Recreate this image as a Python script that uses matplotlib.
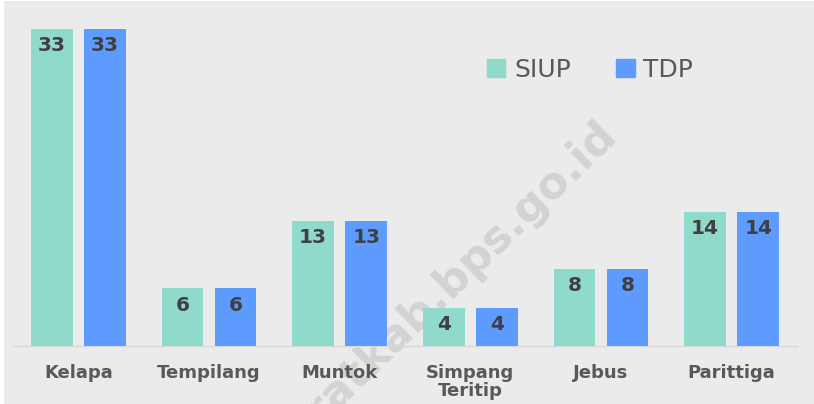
import matplotlib.pyplot as plt
import matplotlib.patches as mpatches
import numpy as np

# data
kecamatan = ['Kelapa', 'Tempilang', 'Muntok', 'Simpang\nTeritip', 'Jebus', 'Parittiga']
siup = [33, 6, 13, 4, 8, 14]
tdp = [33, 6, 13, 4, 8, 14]

teal = '#8FDACA'
blue = '#5E9BFE'
bg = '#EBEBEB'

W, H = 814, 404
fig = plt.figure(figsize=(W / 100, H / 100), dpi=100, facecolor='white')
fig.patches.append(mpatches.Rectangle((4 / W, 0), 1, 1 - 1 / H, transform=fig.transFigure,
                                      facecolor=bg, edgecolor='none', zorder=-10))

ax = fig.add_axes([13 / W, (H - 346) / H, (797 - 13) / W, 336 / H])
ax.set_facecolor('none')

x = np.arange(len(kecamatan))
w = 0.32
off = 0.203
b1 = ax.bar(x - off, siup, w, color=teal, zorder=3)
b2 = ax.bar(x + off, tdp, w, color=blue, zorder=3)

for bars in (b1, b2):
    for r in bars:
        ax.annotate(str(int(r.get_height())), (r.get_x() + r.get_width() / 2, r.get_height()),
                    xytext=(0, -12), textcoords='offset points', ha='center', va='center',
                    fontsize=14.5, fontweight='bold', color='#404040', zorder=4)

ax.set_xlim(-0.5, len(kecamatan) - 0.5)
ax.set_ylim(0, 35)
ax.set_yticks([])
ax.set_xticks(x)
ax.set_xticklabels(kecamatan, fontsize=13, fontweight='bold', color='#595959', linespacing=1.0)
ax.tick_params(axis='x', length=0, pad=13)
for s in ['top', 'right', 'left']:
    ax.spines[s].set_visible(False)
ax.spines['bottom'].set_color('#D9D9D9')
ax.spines['bottom'].set_linewidth(1)

# watermark
fig.text(618 / W, 1 - 137 / H, 'bangkabaratkab.bps.go.id', rotation=44, rotation_mode='anchor',
         ha='right', va='baseline', fontsize=32, fontweight='bold', family='DejaVu Sans',
         color='#D3D3D3', zorder=-5)

# legend
h1 = mpatches.Patch(color=teal, label='SIUP')
h2 = mpatches.Patch(color=blue, label='TDP')
fig.legend(handles=[h1, h2], loc='center', bbox_to_anchor=(590 / W, 1 - 70 / H), ncol=2,
           frameon=False, fontsize=18, labelcolor='#595959', handlelength=0.75, handleheight=0.75,
           handletextpad=0.35, columnspacing=1.8)

fig.savefig('out.png', dpi=100, facecolor='white')
